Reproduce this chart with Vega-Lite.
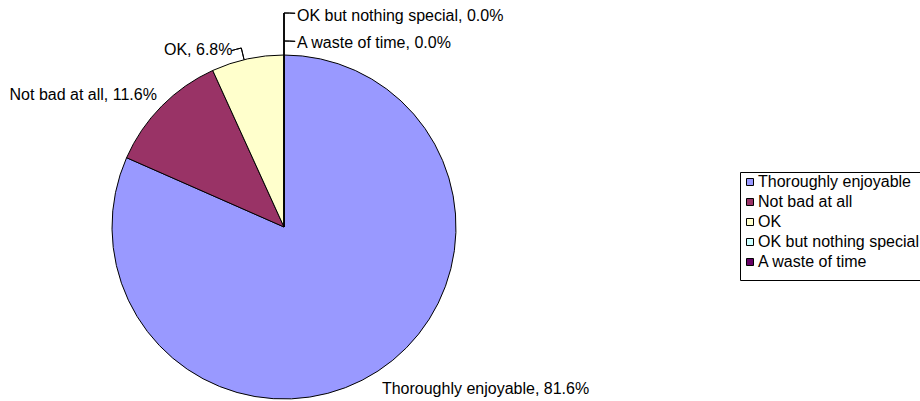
{
  "$schema": "https://vega.github.io/schema/vega-lite/v6.json",
  "width": 568,
  "height": 348,
  "autosize": {"type": "none"},
  "padding": {"left": 0, "top": 53, "right": 352, "bottom": 0},
  "background": "white",
  "config": {
    "view": {"stroke": null},
    "font": "Liberation Sans",
    "text": {"font": "Liberation Sans", "fontSize": 16, "color": "black"}
  },
  "data": {
    "values": [
      {"idx": 1, "answer": "Thoroughly enjoyable", "percent": 81.6},
      {"idx": 2, "answer": "Not bad at all", "percent": 11.6},
      {"idx": 3, "answer": "OK", "percent": 6.8},
      {"idx": 4, "answer": "OK but nothing special", "percent": 0.0},
      {"idx": 5, "answer": "A waste of time", "percent": 0.0}
    ]
  },
  "transform": [
    {"calculate": "datum.answer + ', ' + format(datum.percent, '.1f') + '%'", "as": "label"}
  ],
  "layer": [
    {
      "mark": {"type": "arc", "radius": 172, "stroke": "black", "strokeWidth": 1},
      "encoding": {
        "theta": {"field": "percent", "type": "quantitative", "stack": true},
        "order": {"field": "idx", "type": "quantitative"},
        "color": {
          "field": "answer",
          "type": "nominal",
          "scale": {
            "domain": ["Thoroughly enjoyable", "Not bad at all", "OK", "OK but nothing special", "A waste of time"],
            "range": ["#9999FF", "#993366", "#FFFFCC", "#CCFFFF", "#660066"]
          },
          "legend": {
            "title": " ",
            "titleOrient": "bottom",
            "titleFontSize": 8,
            "titlePadding": 0,
            "orient": "none",
            "legendX": 740,
            "legendY": 119,
            "symbolType": "square",
            "symbolSize": 49,
            "symbolStrokeColor": "black",
            "symbolStrokeWidth": 1,
            "symbolOpacity": 1,
            "symbolOffset": 0,
            "labelFont": "Liberation Sans",
            "labelFontSize": 16,
            "labelColor": "black",
            "labelOffset": 0,
            "labelLimit": 300,
            "rowPadding": 4,
            "padding": 2,
            "strokeColor": "black",
            "fillColor": "white"
          }
        }
      }
    },
    {
      "transform": [{"filter": "datum.percent == 0"}],
      "mark": {"type": "arc", "radius": 172, "radius2": 214, "theta": 0, "theta2": 0, "stroke": "black", "strokeWidth": 1, "fill": null},
      "encoding": {}
    },
    {
      "transform": [{"filter": "datum.answer == 'OK but nothing special'"}],
      "mark": {"type": "arc", "radius": 214, "radius2": 214, "theta": 0, "theta2": 0.052, "stroke": "black", "strokeWidth": 1, "fill": null},
      "encoding": {}
    },
    {
      "transform": [{"filter": "datum.answer == 'A waste of time'"}],
      "mark": {"type": "arc", "radius": 186, "radius2": 186, "theta": 0, "theta2": 0.06, "stroke": "black", "strokeWidth": 1, "fill": null},
      "encoding": {}
    },
    {
      "transform": [{"filter": "datum.answer == 'OK'"}],
      "mark": {"type": "arc", "radius": 172, "radius2": 184, "theta": 6.049, "theta2": 6.049, "stroke": "black", "strokeWidth": 1, "fill": null},
      "encoding": {}
    },
    {
      "transform": [{"filter": "datum.answer == 'OK'"}],
      "mark": {"type": "arc", "radius": 184, "radius2": 184, "theta": 5.994, "theta2": 6.049, "stroke": "black", "strokeWidth": 1, "fill": null},
      "encoding": {}
    },
    {
      "mark": {"type": "text", "radius": 192, "align": "left", "baseline": "alphabetic", "dx": -7, "dy": 6},
      "encoding": {
        "theta": {"field": "percent", "type": "quantitative", "stack": true},
        "order": {"field": "idx", "type": "quantitative"},
        "detail": {"field": "answer", "type": "nominal"},
        "text": {"condition": {"test": "datum.answer == 'Thoroughly enjoyable'", "field": "label"}, "value": ""}
      }
    },
    {
      "mark": {"type": "text", "radius": 180, "align": "right", "baseline": "alphabetic", "dx": 1, "dy": -1},
      "encoding": {
        "theta": {"field": "percent", "type": "quantitative", "stack": true},
        "order": {"field": "idx", "type": "quantitative"},
        "detail": {"field": "answer", "type": "nominal"},
        "text": {"condition": {"test": "datum.answer == 'Not bad at all'", "field": "label"}, "value": ""}
      }
    },
    {
      "mark": {"type": "text", "radius": 177, "align": "right", "baseline": "alphabetic", "dx": -14, "dy": 1},
      "encoding": {
        "theta": {"field": "percent", "type": "quantitative", "stack": true},
        "order": {"field": "idx", "type": "quantitative"},
        "detail": {"field": "answer", "type": "nominal"},
        "text": {"condition": {"test": "datum.answer == 'OK'", "field": "label"}, "value": ""}
      }
    },
    {
      "mark": {"type": "text", "radius": 206, "align": "left", "baseline": "alphabetic", "dx": 13},
      "encoding": {
        "theta": {"field": "percent", "type": "quantitative", "stack": true},
        "order": {"field": "idx", "type": "quantitative"},
        "detail": {"field": "answer", "type": "nominal"},
        "text": {"condition": {"test": "datum.answer == 'OK but nothing special'", "field": "label"}, "value": ""}
      }
    },
    {
      "mark": {"type": "text", "radius": 179, "align": "left", "baseline": "alphabetic", "dx": 13},
      "encoding": {
        "theta": {"field": "percent", "type": "quantitative", "stack": true},
        "order": {"field": "idx", "type": "quantitative"},
        "detail": {"field": "answer", "type": "nominal"},
        "text": {"condition": {"test": "datum.answer == 'A waste of time'", "field": "label"}, "value": ""}
      }
    }
  ]
}
